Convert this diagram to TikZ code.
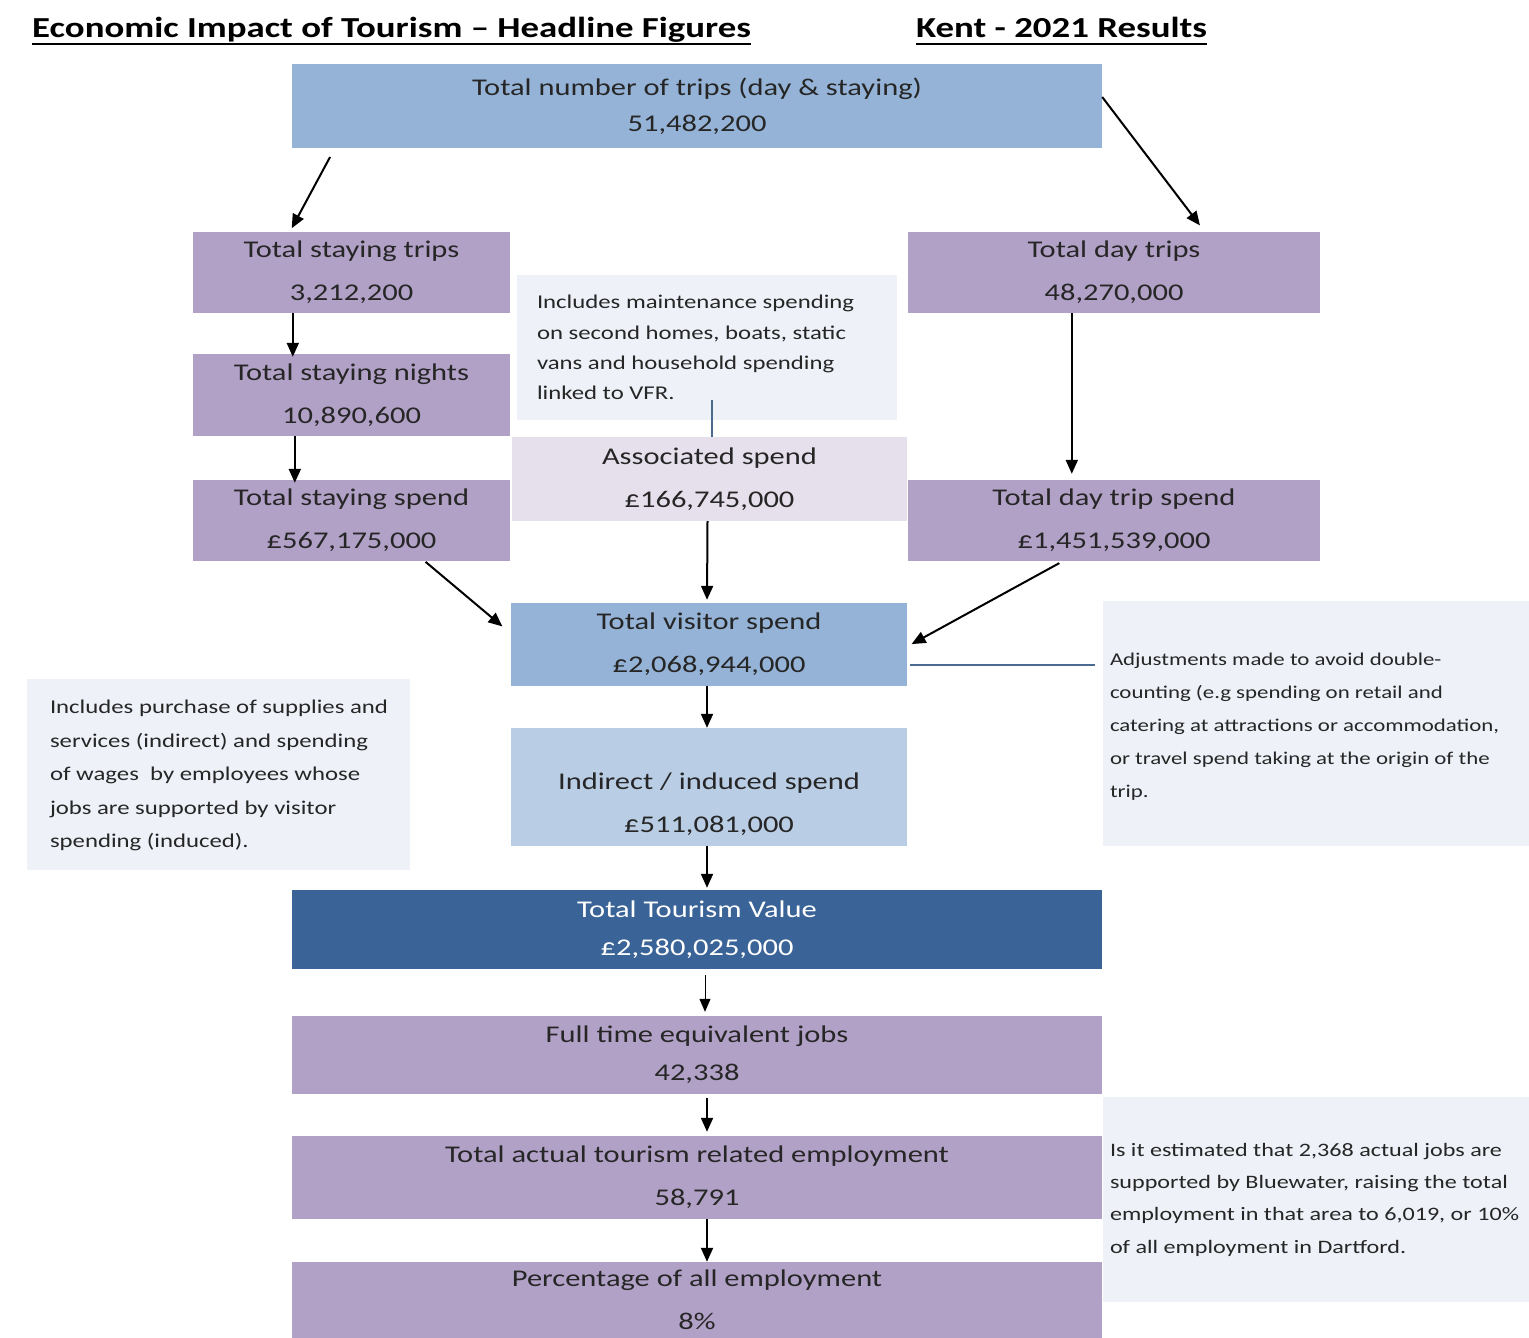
\documentclass[tikz,border=0pt]{standalone}
\usepackage{fontspec}
\setmainfont{Carlito}[FakeStretch=1.27]
\usetikzlibrary{arrows.meta}

\definecolor{lav}{HTML}{B2A1C7}
\definecolor{lavpale}{HTML}{E6E0EC}
\definecolor{skyblue}{HTML}{95B3D7}
\definecolor{paleblue}{HTML}{B9CDE5}
\definecolor{deepblue}{HTML}{3A6497}
\definecolor{notebg}{HTML}{EEF1F8}
\definecolor{ink}{HTML}{262626}
\definecolor{leader}{HTML}{4A6A90}

\tikzset{
  box/.style={rectangle, inner sep=0pt, text=ink, align=center,
    font=\fontsize{24}{43}\selectfont},
  note/.style={rectangle, fill=notebg, inner sep=0pt},
  notetext/.style={inner sep=0pt, anchor=west, text=ink, align=left,
    font=\fontsize{19.5}{32.5}\selectfont},
  arr/.style={-{Triangle[length=14pt,width=12pt]}, line width=2pt, black},
  thinarr/.style={-{Triangle[length=13pt,width=11pt]}, line width=1pt, black},
  leaderline/.style={line width=1.2pt, leader},
  heading/.style={inner sep=0pt, anchor=base west, text=black,
    font=\fontsize{29}{34}\selectfont\bfseries},
}

\begin{document}
\begin{tikzpicture}[x=1pt,y=-1pt]
\useasboundingbox[fill=white] (0,0) rectangle (1529,1338);

% headings
\node[heading] (title) at (32,38) {Economic Impact of Tourism – Headline Figures};
\node[heading] (place) at (916,38) {Kent - 2021 Results};
\draw[line width=1.8pt] ([yshift=-6pt]title.base west) -- ([yshift=-6pt]title.base east);
\draw[line width=1.8pt] ([yshift=-6pt]place.base west) -- ([yshift=-6pt]place.base east);

% explanatory notes: shaded panel plus left-aligned text
\node[note, minimum width=380pt, minimum height=145pt] (note1) at (707,347.5) {};
\node[notetext, font=\fontsize{19.5}{30.3}\selectfont] (note1text) at ([xshift=20pt]note1.west)
  {Includes maintenance spending\\on second homes, boats, static\\vans and household spending\\linked to VFR.};
\node[note, minimum width=383pt, minimum height=191pt] (notel) at (218.5,774.5) {};
\node[notetext, font=\fontsize{19.5}{33.5}\selectfont] (noteltext) at ([xshift=23pt,yshift=-1pt]notel.west)
  {Includes purchase of supplies and\\services (indirect) and spending\\of wages\ \ by employees whose\\jobs are supported by visitor\\spending (induced).};
\node[note, minimum width=426pt, minimum height=245pt] (noter1) at (1316,723.5) {};
\node[notetext, font=\fontsize{18}{33}\selectfont] (noter1text) at ([xshift=7pt,yshift=-3pt]noter1.west)
  {Adjustments made to avoid double-\\counting (e.g spending on retail and\\catering at attractions or accommodation,\\or travel spend taking at the origin of the\\trip.};
\node[note, minimum width=426pt, minimum height=205pt] (noter2) at (1316,1199.5) {};
\node[notetext, font=\fontsize{19}{32.3}\selectfont] (noter2text) at ([xshift=7pt]noter2.west)
  {Is it estimated that 2,368 actual jobs are\\supported by Bluewater, raising the total\\employment in that area to 6,019, or 10\%\\of all employment in Dartford.};

% flow boxes
\node[box, fill=skyblue, minimum width=810pt, minimum height=84pt] (trips) at (697,106)
  {Total number of trips (day \& staying)\\[-7pt]51,482,200};
\node[box, fill=lav, minimum width=317pt, minimum height=81pt] (stayt) at (351.5,272.5)
  {Total staying trips\\3,212,200};
\node[box, fill=lav, minimum width=317pt, minimum height=82pt] (stayn) at (351.5,395)
  {Total staying nights\\10,890,600};
\node[box, fill=lav, minimum width=317pt, minimum height=81pt] (stays) at (351.5,520.5)
  {Total staying spend\\£567,175,000};
\node[box, fill=lav, minimum width=412pt, minimum height=81pt] (dayt) at (1114,272.5)
  {Total day trips\\48,270,000};
\node[box, fill=lav, minimum width=412pt, minimum height=81pt] (days) at (1114,520.5)
  {Total day trip spend\\£1,451,539,000};
\node[box, fill=lavpale, minimum width=395pt, minimum height=84pt] (assoc) at (709.5,479)
  {Associated spend\\£166,745,000};
\node[box, fill=skyblue, minimum width=396pt, minimum height=83pt] (visit) at (709,644.5)
  {Total visitor spend\\£2,068,944,000};
\node[box, fill=paleblue, minimum width=396pt, minimum height=118pt] (ind) at (709,787) {};
\node[box] (indtext) at ([yshift=-17pt]ind.center)
  {Indirect / induced spend\\£511,081,000};
\node[box, fill=deepblue, text=white, minimum width=810pt, minimum height=79pt] (ttv) at (697,929.5)
  {Total Tourism Value\\[-5pt]£2,580,025,000};
\node[box, fill=lav, minimum width=810pt, minimum height=78pt] (fte) at (697,1055)
  {Full time equivalent jobs\\[-5pt]42,338};
\node[box, fill=lav, minimum width=810pt, minimum height=83pt] (act) at (697,1177.5)
  {Total actual tourism related employment\\58,791};
\node[box, fill=lav, minimum width=810pt, minimum height=76pt] (pct) at (697,1300)
  {Percentage of all employment\\8\%};

% connectors
\draw[arr, shorten <=10pt, shorten >=4pt] ([xshift=43pt]trips.south west) -- ([xshift=97pt]stayt.north west);
\draw[arr, shorten >=8pt] ([yshift=9pt]trips.east) -- ([xshift=297pt]dayt.north west);
\draw[arr, shorten >=-3pt] ([xshift=100pt]stayt.south west) -- ([xshift=100pt]stayn.north west);
\draw[arr, shorten >=-3pt] ([xshift=102pt]stayn.south west) -- ([xshift=102pt]stays.north west);
\draw[arr, shorten >=6pt] ([xshift=164pt]dayt.south west) -- ([xshift=164pt]days.north west);
\draw[arr, shorten <=1pt, shorten >=11pt] ([xshift=232pt]stays.south west) -- ([yshift=11pt]visit.west);
\draw[arr, shorten <=4pt, shorten >=5pt] ([xshift=155pt]days.south west) -- ([yshift=-2pt]visit.east);
\draw[arr, shorten >=3pt] ([xshift=-2pt]assoc.south) -- ([xshift=-2pt]visit.north);
\draw[arr] ([xshift=-2pt]visit.south) -- ([xshift=-2pt]ind.north);
\draw[arr, shorten >=2pt] ([xshift=-2pt]ind.south) -- ([xshift=10pt]ttv.north);
\draw[thinarr, shorten <=6pt, shorten >=4pt] ([xshift=8pt]ttv.south) -- ([xshift=8pt]fte.north);
\draw[arr, shorten <=4pt, shorten >=4pt] ([xshift=10pt]fte.south) -- ([xshift=10pt]act.north);
\draw[arr] ([xshift=10pt]act.south) -- ([xshift=10pt]pct.north);

% leader lines from the notes
\draw[leaderline] ([xshift=5pt,yshift=20pt]note1.south) -- ([xshift=2.5pt]assoc.north);
\draw[leaderline, shorten <=3pt, shorten >=8pt] ([yshift=-20.5pt]visit.east) -- ([yshift=58.5pt]noter1.west);
\end{tikzpicture}
\end{document}
